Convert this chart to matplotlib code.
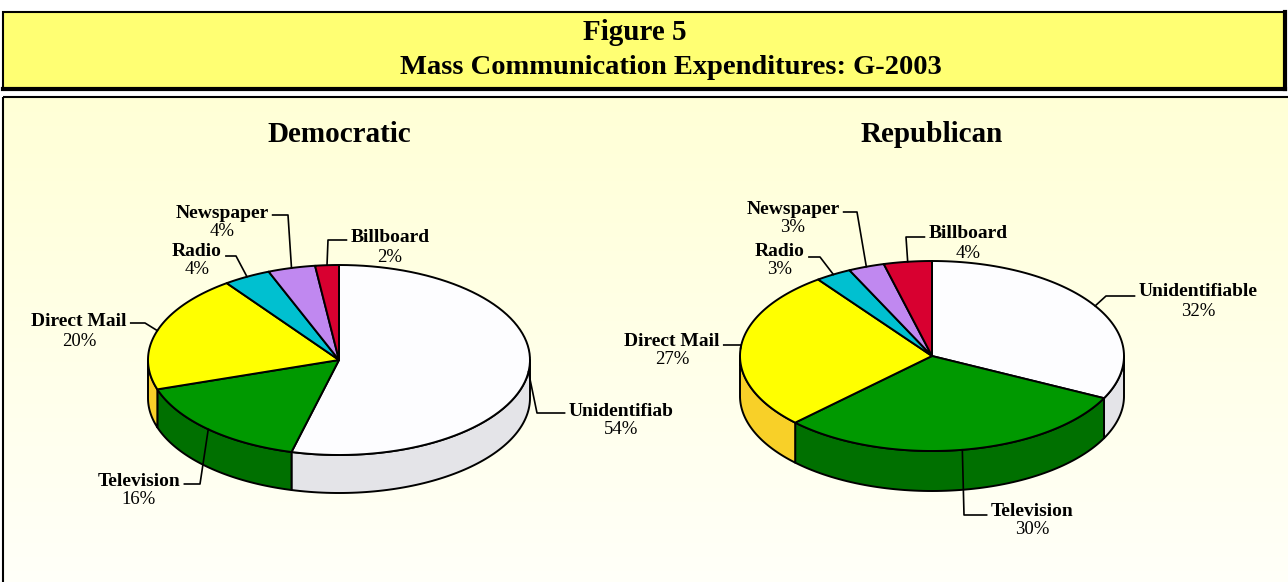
import numpy as np
import matplotlib.pyplot as plt
from matplotlib.patches import Polygon, Rectangle
from matplotlib.colors import LinearSegmentedColormap

# data
categories = ["Unidentifiable", "Television", "Direct Mail", "Radio", "Newspaper", "Billboard"]
dem_names = ["Unidentifiab", "Television", "Direct Mail", "Radio", "Newspaper", "Billboard"]
dem_values = [54, 16, 20, 4, 4, 2]
rep_values = [32, 30, 27, 3, 3, 4]

top_colors = ["#FDFDFF", "#009900", "#FFFF00", "#00C0D0", "#C088F0", "#D80030"]
side_colors = ["#E4E4E8", "#007000", "#F8D028", "#0090A0", "#9060C0", "#A00020"]

W, H = 1288, 582
fig = plt.figure(figsize=(W / 100, H / 100), dpi=100)
ax = fig.add_axes([0, 0, 1, 1])
ax.set_xlim(0, W)
ax.set_ylim(H, 0)
ax.axis("off")

SERIF = ["Liberation Serif", "DejaVu Serif"]

# background panel with a soft gradient
grad = np.linspace(0, 1, 256).reshape(-1, 1)
cm = LinearSegmentedColormap.from_list("bg", ["#FFFFD6", "#FFFFFA"])
ax.imshow(grad, cmap=cm, extent=[3, W, 600, 97], aspect="auto", zorder=0)
ax.add_patch(Rectangle((3, 97), W, 520, fill=False, ec="black", lw=1.5, zorder=1))

# title box
ax.add_patch(Rectangle((3, 12), W - 6, 77, fc="#FFFF73", ec="black", lw=1.5, zorder=1))
ax.plot([3, W - 3], [89, 89], color="black", lw=3, zorder=2)
ax.plot([W - 3, W - 3], [12, 89], color="black", lw=3, zorder=2)
ax.text(635, 32, "Figure 5", ha="center", va="center", fontsize=21,
        fontweight="bold", family=SERIF, zorder=3)
ax.text(671, 67, "Mass Communication Expenditures: G-2003", ha="center",
        va="center", fontsize=20.5, fontweight="bold", family=SERIF, zorder=3)

renderer = fig.canvas.get_renderer()


def arc(cx, cy, rx, ry, a1, a2, n=80):
    t = np.radians(np.linspace(a1, a2, n))
    return np.column_stack([cx + rx * np.cos(t), cy - ry * np.sin(t)])


def pie3d(values, names, cx, cy, rx, ry, depth, title, label_pos):
    total = float(sum(values))
    starts, ends = [], []
    a = 90.0
    for v in values:
        starts.append(a)
        a -= v / total * 360.0
        ends.append(a)

    # side walls (front half only)
    for s, e, c in zip(starts, ends, side_colors):
        lo, hi = max(e, -180.0), min(s, 0.0)
        if hi <= lo:
            continue
        topc = arc(cx, cy, rx, ry, hi, lo)
        bot = topc[::-1] + [0, depth]
        ax.add_patch(Polygon(np.vstack([topc, bot]), closed=True, fc=c,
                             ec="black", lw=1.4, joinstyle="round", zorder=3))

    # top faces
    for s, e, c in zip(starts, ends, top_colors):
        pts = np.vstack([[cx, cy], arc(cx, cy, rx, ry, s, e)])
        ax.add_patch(Polygon(pts, closed=True, fc=c, ec="black", lw=1.4,
                             joinstyle="round", zorder=4))

    ax.text(cx, 135, title, ha="center", va="center", fontsize=21,
            fontweight="bold", family=SERIF, zorder=5)

    # labels with elbow leader lines
    for v, s, e, name, (tx, ty, ex, ey) in zip(values, starts, ends, names, label_pos):
        m = np.radians((s + e) / 2)
        px, py = cx + rx * np.cos(m), cy - ry * np.sin(m)
        t = ax.text(tx, ty, name, ha="center", va="center", fontsize=14,
                    fontweight="bold", family=SERIF, zorder=6)
        ax.text(tx, ty + 19, f"{v}%", ha="center", va="center", fontsize=13.5,
                family=SERIF, zorder=6)
        bb = t.get_window_extent(renderer).transformed(ax.transData.inverted())
        left, right = min(bb.x0, bb.x1), max(bb.x0, bb.x1)
        hx = left - 4 if ex < tx else right + 4
        ax.plot([px, ex, hx], [py, ey, ey], color="black", lw=1.2, zorder=5)


# label layout: text x, text y, elbow x, elbow y
dem_layout = [
    (621, 411, 537, 413),
    (139, 481, 200, 484),
    (79, 322, 145, 323),
    (197, 251, 236, 256),
    (222, 213, 288, 215),
    (390, 238, 328, 240),
]
rep_layout = [
    (1198, 292, 1106, 296),
    (1032, 511, 964, 515),
    (672, 341, 741, 345),
    (780, 251, 820, 257),
    (793, 209, 857, 212),
    (968, 234, 906, 237),
]

pie3d(dem_values, dem_names, 339, 360, 191, 95, 38, "Democratic", dem_layout)
pie3d(rep_values, categories, 932, 356, 192, 95, 40, "Republican", rep_layout)

fig.savefig("out.png", dpi=100)
